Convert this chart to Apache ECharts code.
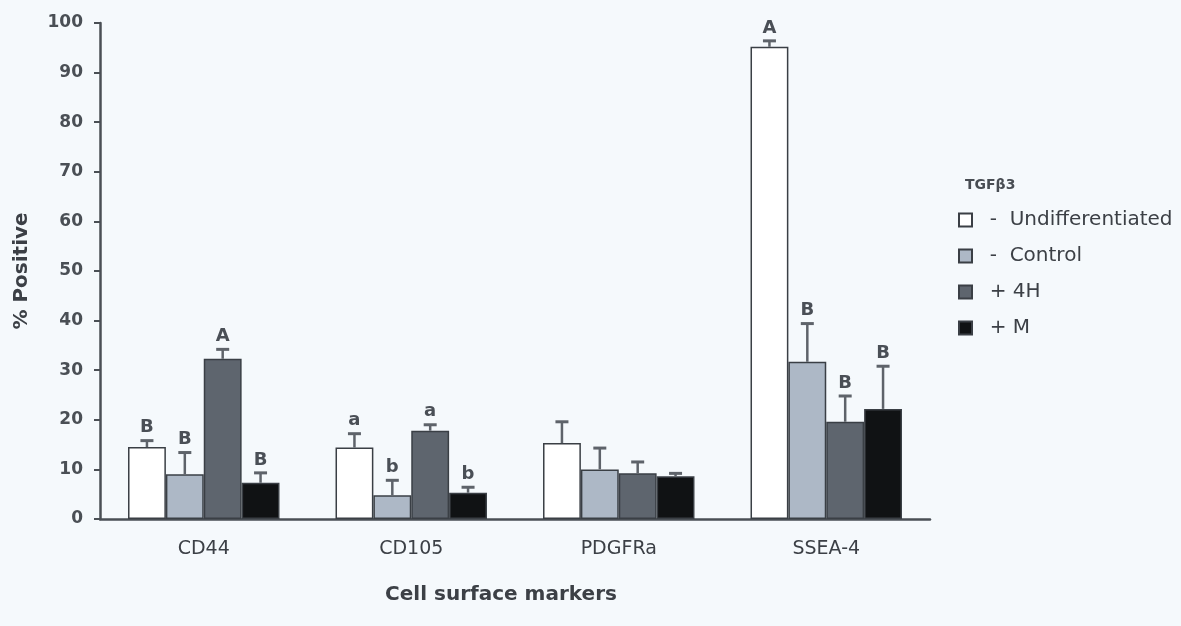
<!DOCTYPE html>
<html>
<head>
<meta charset="utf-8">
<script src="https://cdn.jsdelivr.net/npm/echarts@6/dist/echarts.min.js"></script>
<style>
html,body{margin:0;padding:0;background:#f5f9fc;}
#chart{width:1181px;height:626px;}
</style>
</head>
<body>
<div id="chart"></div>
<script>
const categories = ['CD44', 'CD105', 'PDGFRa', 'SSEA-4'];
const seriesNames = ['- Undifferentiated', '- Control', '+ 4H', '+ M'];
const undiff = [14.5, 14.4, 15.3, 95.2];
const undiffErr = [15.8, 17.2, 19.6, 96.4];
const control = [9.0, 4.8, 10.0, 31.7];
const controlErr = [13.4, 7.8, 14.3, 39.4];
const h4 = [32.3, 17.8, 9.2, 19.6];
const h4Err = [34.2, 19.0, 11.5, 24.8];
const m = [7.3, 5.3, 8.6, 22.2];
const mErr = [9.3, 6.4, 9.2, 30.8];
const undiffLetters = ['B', 'a', '', 'A'];
const controlLetters = ['B', 'b', '', 'B'];
const h4Letters = ['A', 'a', '', 'B'];
const mLetters = ['B', 'b', '', 'B'];
const yTicks = [0, 10, 20, 30, 40, 50, 60, 70, 80, 90, 100];

const colors = ['#ffffff', '#adb8c6', '#5e656e', '#101214'];
const values = [undiff, control, h4, m];
const errs = [undiffErr, controlErr, h4Err, mErr];
const letters = [undiffLetters, controlLetters, h4Letters, mLetters];
const GAP = 0.27;
const FONT = '"DejaVu Sans", Verdana, sans-serif';

const barSeries = seriesNames.map((name, k) => ({
  name: name,
  type: 'bar',
  data: values[k],
  barGap: '0%',
  barCategoryGap: (GAP * 100) + '%',
  itemStyle: { color: colors[k], borderColor: '#3a3f45', borderWidth: 1.5 },
  emphasis: { disabled: true },
  z: 2
}));

const errSeries = seriesNames.map((name, k) => ({
  type: 'custom',
  name: name + ' err',
  data: categories.map((c, i) => [i, values[k][i], errs[k][i]]),
  z: 3,
  silent: true,
  renderItem: function (params, api) {
    const i = api.value(0);
    const base = api.coord([i, api.value(1)]);
    const top = api.coord([i, api.value(2)]);
    const band = api.size([1, 0])[0];
    const bw = band * (1 - GAP) / 4;
    const cx = base[0] + (k - 1.5) * bw;
    const letter = letters[k][i];
    const children = [
      { type: 'line', shape: { x1: cx, y1: base[1], x2: cx, y2: top[1] }, style: { stroke: '#5e636a', lineWidth: 2.5 } },
      { type: 'line', shape: { x1: cx - 6.5, y1: top[1], x2: cx + 6.5, y2: top[1] }, style: { stroke: '#5e636a', lineWidth: 3 } }
    ];
    if (letter) {
      children.push({ type: 'text', style: { text: letter, x: cx, y: top[1] - 4, align: 'center', verticalAlign: 'bottom', fill: '#4a4f56', font: 'bold 18px ' + FONT } });
    }
    return { type: 'group', children: children };
  }
}));

const chart = echarts.init(document.getElementById('chart'), null, { renderer: 'canvas' });
chart.setOption({
  backgroundColor: '#f5f9fc',
  animation: false,
  grid: { left: 100, right: 251, top: 23, bottom: 107, containLabel: false },
  legend: {
    data: seriesNames,
    orient: 'vertical',
    left: 953,
    top: 205,
    itemWidth: 13,
    itemHeight: 13,
    itemGap: 16,
    icon: 'rect',
    selectedMode: false,
    formatter: name => '  ' + name.replace('- ', '-  '),
    textStyle: { fontFamily: FONT, fontSize: 20, lineHeight: 20, color: '#3c4046' }
  },
  graphic: [
    { type: 'text', left: 965, top: 178, style: { text: 'TGFβ3', font: 'bold 14px ' + FONT, fill: '#484d53' } }
  ],
  xAxis: {
    type: 'category',
    data: categories,
    name: 'Cell surface markers',
    nameLocation: 'middle',
    nameGap: 66,
    nameTextStyle: { fontFamily: FONT, fontSize: 20, fontWeight: 'bold', color: '#3c4046', padding: [0, 28, 0, 0] },
    axisLine: { lineStyle: { color: '#4a4f55', width: 2.5 } },
    axisTick: { show: false },
    axisLabel: { fontFamily: FONT, fontSize: 19, color: '#3c4046', margin: 21 }
  },
  yAxis: {
    type: 'value',
    min: 0,
    max: 100,
    interval: 10,
    name: '% Positive',
    nameLocation: 'middle',
    nameGap: 68,
    nameRotate: 90,
    nameTextStyle: { fontFamily: FONT, fontSize: 20, fontWeight: 'bold', color: '#3c4046' },
    splitLine: { show: false },
    axisLine: { show: true, lineStyle: { color: '#4a4f55', width: 2.5 } },
    axisTick: { show: true, length: 6, lineStyle: { color: '#4a4f55', width: 2 } },
    axisLabel: {
      fontFamily: FONT, fontSize: 17, fontWeight: 'bold', color: '#4a4f55', margin: 17,
      formatter: v => (yTicks.indexOf(v) >= 0 ? String(v) : '')
    }
  },
  series: barSeries.concat(errSeries)
});
</script>
</body>
</html>
